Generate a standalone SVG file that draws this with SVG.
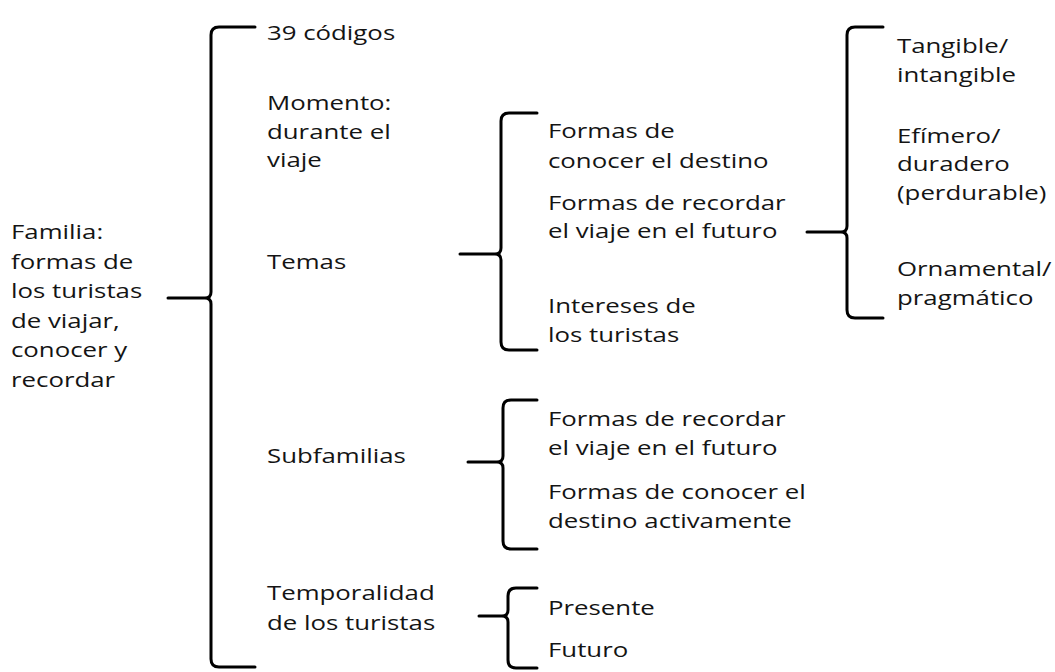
<svg xmlns="http://www.w3.org/2000/svg" width="1055" height="672" viewBox="0 0 1055 672">
<style>
text{font-family:"Open Sans","Noto Sans","DejaVu Sans",sans-serif;font-size:20px;fill:#141414}
.brace{fill:none;stroke:#000;stroke-width:3;stroke-linecap:round;stroke-linejoin:round}
</style>
<rect width="1055" height="672" fill="#fff"/>
<g id="connectors">
<path class="brace" d="M255,27 L219,27 Q211,27 211,35 L211,292 Q211,298 205,298 L168,298 M205,298 Q211,298 211,304 L211,659 Q211,667 219,667 L255,667"/>
<path class="brace" d="M537,113 L509,113 Q501,113 501,121 L501,248 Q501,254 495,254 L460,254 M495,254 Q501,254 501,260 L501,342 Q501,350 509,350 L537,350"/>
<path class="brace" d="M883,27 L855,27 Q847,27 847,35 L847,226 Q847,232 841,232 L807,232 M841,232 Q847,232 847,238 L847,310 Q847,318 855,318 L883,318"/>
<path class="brace" d="M537,400 L511,400 Q503,400 503,408 L503,456 Q503,462 497,462 L468,462 M497,462 Q503,462 503,468 L503,541 Q503,549 511,549 L537,549"/>
<path class="brace" d="M537,588 L516,588 Q508,588 508,596 L508,610 Q508,616 502,616 L479,616 M502,616 Q508,616 508,622 L508,660 Q508,668 516,668 L537,668"/>
</g>
<g id="n-familia" transform="translate(11,0) scale(1.29,1)"><text><tspan x="0" y="239">Familia:</tspan><tspan x="0" y="269">formas de</tspan><tspan x="0" y="298">los turistas</tspan><tspan x="0" y="328">de viajar,</tspan><tspan x="0" y="357">conocer y</tspan><tspan x="0" y="387">recordar</tspan></text></g>
<g id="n-codigos" transform="translate(267,0) scale(1.29,1)"><text x="0" y="40">39 códigos</text></g>
<g id="n-momento" transform="translate(267,0) scale(1.29,1)"><text><tspan x="0" y="110">Momento:</tspan><tspan x="0" y="139">durante el</tspan><tspan x="0" y="167">viaje</tspan></text></g>
<g id="n-temas" transform="translate(267,0) scale(1.29,1)"><text x="0" y="269">Temas</text></g>
<g id="n-subfamilias" transform="translate(267,0) scale(1.29,1)"><text x="0" y="463">Subfamilias</text></g>
<g id="n-temporalidad" transform="translate(267,0) scale(1.29,1)"><text><tspan x="0" y="600">Temporalidad</tspan><tspan x="0" y="630">de los turistas</tspan></text></g>
<g id="n-t-conocer" transform="translate(548,0) scale(1.29,1)"><text><tspan x="0" y="138">Formas de</tspan><tspan x="0" y="168">conocer el destino</tspan></text></g>
<g id="n-t-recordar" transform="translate(548,0) scale(1.29,1)"><text><tspan x="0" y="210">Formas de recordar</tspan><tspan x="0" y="238">el viaje en el futuro</tspan></text></g>
<g id="n-t-intereses" transform="translate(548,0) scale(1.29,1)"><text><tspan x="0" y="313">Intereses de</tspan><tspan x="0" y="342">los turistas</tspan></text></g>
<g id="n-s-recordar" transform="translate(548,0) scale(1.29,1)"><text><tspan x="0" y="426">Formas de recordar</tspan><tspan x="0" y="455">el viaje en el futuro</tspan></text></g>
<g id="n-s-conocer" transform="translate(548,0) scale(1.29,1)"><text><tspan x="0" y="499">Formas de conocer el</tspan><tspan x="0" y="528">destino activamente</tspan></text></g>
<g id="n-presente" transform="translate(548,0) scale(1.29,1)"><text x="0" y="615">Presente</text></g>
<g id="n-futuro" transform="translate(548,0) scale(1.29,1)"><text x="0" y="657">Futuro</text></g>
<g id="n-tangible" transform="translate(897,0) scale(1.29,1)"><text><tspan x="0" y="53">Tangible/</tspan><tspan x="0" y="82">intangible</tspan></text></g>
<g id="n-efimero" transform="translate(897,0) scale(1.29,1)"><text><tspan x="0" y="143">Efímero/</tspan><tspan x="0" y="171">duradero</tspan><tspan x="0" y="200">(perdurable)</tspan></text></g>
<g id="n-ornamental" transform="translate(897,0) scale(1.29,1)"><text><tspan x="0" y="276">Ornamental/</tspan><tspan x="0" y="305">pragmático</tspan></text></g>
</svg>
